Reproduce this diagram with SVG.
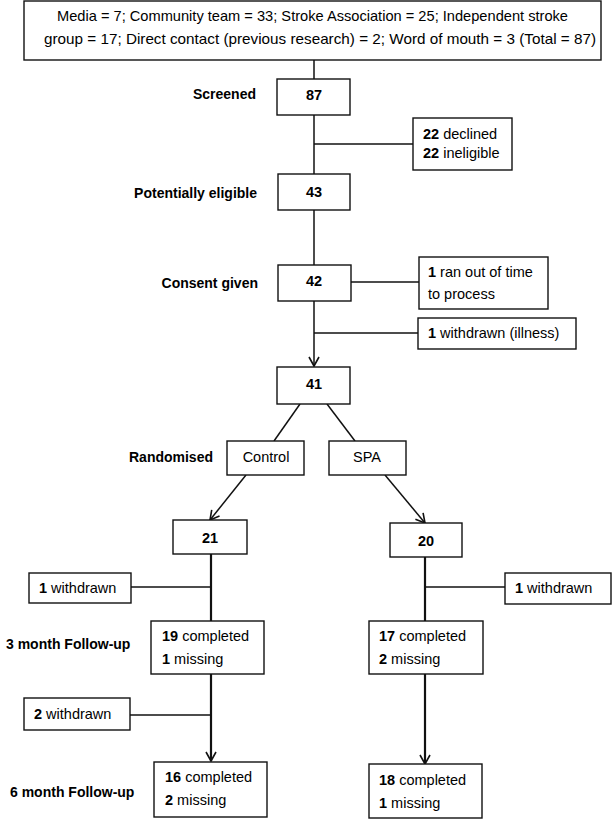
<svg xmlns="http://www.w3.org/2000/svg" width="613" height="821" viewBox="0 0 613 821">
<style>
text{font-family:"Liberation Sans",Arial,sans-serif;font-size:14.5px;fill:#000}
.b{font-weight:bold}
.lbl{font-weight:bold;font-size:14px}
.c{text-anchor:middle}
.e{text-anchor:end}
rect{fill:#fff;stroke:#111;stroke-width:1.4}
.ln{stroke:#111;stroke-width:1.5;fill:none}
.thk{stroke-width:2.2}
</style>
<defs>
<marker id="arr" viewBox="-11 -7 13 14" markerWidth="13" markerHeight="14" refX="0" refY="0" orient="auto" markerUnits="userSpaceOnUse">
<path d="M-9,-5 L0,0 L-9,5" fill="none" stroke="#111" stroke-width="1.6"/>
</marker>
</defs>
<rect x="0" y="0" width="613" height="821" style="fill:#fff;stroke:none"/>
<g id="connectors">
<line class="ln" x1="314" y1="60" x2="314" y2="79"/>
<line class="ln" x1="314" y1="115" x2="314" y2="174"/>
<line class="ln" x1="314" y1="144" x2="413" y2="144"/>
<line class="ln" x1="314" y1="210" x2="314" y2="265"/>
<line class="ln" x1="351" y1="282" x2="419" y2="282"/>
<line class="ln" x1="314" y1="301" x2="314" y2="366" marker-end="url(#arr)"/>
<line class="ln" x1="314" y1="333" x2="418" y2="333"/>
<line class="ln" x1="300" y1="404" x2="274" y2="441"/>
<line class="ln" x1="327" y1="404" x2="355" y2="441"/>
<line class="ln" x1="246" y1="475" x2="210" y2="520" marker-end="url(#arr)"/>
<line class="ln" x1="385" y1="475" x2="425" y2="523" marker-end="url(#arr)"/>
<line class="ln thk" x1="211" y1="554" x2="211" y2="621"/>
<line class="ln" x1="131" y1="587" x2="211" y2="587"/>
<line class="ln thk" x1="425" y1="557" x2="425" y2="621"/>
<line class="ln" x1="425" y1="587" x2="505" y2="587"/>
<line class="ln thk" x1="211" y1="674" x2="211" y2="761" marker-end="url(#arr)"/>
<line class="ln" x1="130" y1="715" x2="211" y2="715"/>
<line class="ln thk" x1="425" y1="674" x2="425" y2="764" marker-end="url(#arr)"/>
</g>
<g id="sources">
<rect x="24" y="1" width="577" height="59"/>
<text x="57" y="21" textLength="511" lengthAdjust="spacingAndGlyphs">Media = 7; Community team = 33; Stroke Association = 25; Independent stroke</text>
<text x="44" y="44" textLength="552" lengthAdjust="spacingAndGlyphs">group = 17; Direct contact (previous research) = 2; Word of mouth = 3 (Total = 87)</text>
</g>
<g id="screened">
<text class="lbl e" x="256" y="99">Screened</text>
<rect x="277" y="79" width="73" height="36"/>
<text class="b c" x="314" y="100">87</text>
</g>
<g id="excluded1">
<rect x="413" y="118" width="99" height="52"/>
<text x="423" y="139"><tspan class="b">22</tspan> declined</text>
<text x="423" y="158"><tspan class="b">22</tspan> ineligible</text>
</g>
<g id="eligible">
<text class="lbl e" x="257" y="198">Potentially eligible</text>
<rect x="278" y="174" width="72" height="36"/>
<text class="b c" x="314" y="197">43</text>
</g>
<g id="consent">
<text class="lbl e" x="258" y="288">Consent given</text>
<rect x="278" y="265" width="73" height="36"/>
<text class="b c" x="314" y="286">42</text>
</g>
<g id="timeout">
<rect x="419" y="257" width="129" height="52"/>
<text x="428" y="277"><tspan class="b">1</tspan> ran out of time</text>
<text x="428" y="299">to process</text>
</g>
<g id="illness">
<rect x="418" y="318" width="158" height="31"/>
<text x="428" y="338"><tspan class="b">1</tspan> withdrawn (illness)</text>
</g>
<g id="n41">
<rect x="277" y="367" width="73" height="37"/>
<text class="b c" x="314" y="389">41</text>
</g>
<g id="control">
<text class="lbl e" x="213" y="462">Randomised</text>
<rect x="227" y="441" width="77" height="34"/>
<text class="c" x="266" y="462">Control</text>
</g>
<g id="spa">
<rect x="329" y="441" width="77" height="34"/>
<text class="c" x="367" y="462">SPA</text>
</g>
<g id="n21">
<rect x="173" y="520" width="74" height="34"/>
<text class="b c" x="210" y="543">21</text>
</g>
<g id="n20">
<rect x="390" y="523" width="72" height="34"/>
<text class="b c" x="426" y="546">20</text>
</g>
<g id="withdrawnL1">
<rect x="29" y="573" width="102" height="30"/>
<text x="39" y="593"><tspan class="b">1</tspan> withdrawn</text>
</g>
<g id="withdrawnR1">
<rect x="505" y="573" width="106" height="31"/>
<text x="515" y="593"><tspan class="b">1</tspan> withdrawn</text>
</g>
<g id="fu3control">
<text class="lbl" x="6" y="649">3 month Follow-up</text>
<rect x="151" y="621" width="113" height="53"/>
<text x="162" y="641"><tspan class="b">19</tspan> completed</text>
<text x="162" y="664"><tspan class="b">1</tspan> missing</text>
</g>
<g id="fu3spa">
<rect x="369" y="621" width="114" height="53"/>
<text x="379" y="641"><tspan class="b">17</tspan> completed</text>
<text x="379" y="664"><tspan class="b">2</tspan> missing</text>
</g>
<g id="withdrawnL2">
<rect x="24" y="698" width="106" height="32"/>
<text x="34" y="719"><tspan class="b">2</tspan> withdrawn</text>
</g>
<g id="fu6control">
<text class="lbl" x="10" y="797">6 month Follow-up</text>
<rect x="154" y="762" width="113" height="55"/>
<text x="165" y="782"><tspan class="b">16</tspan> completed</text>
<text x="165" y="805"><tspan class="b">2</tspan> missing</text>
</g>
<g id="fu6spa">
<rect x="369" y="764" width="113" height="54"/>
<text x="379" y="785"><tspan class="b">18</tspan> completed</text>
<text x="379" y="808"><tspan class="b">1</tspan> missing</text>
</g>
</svg>
